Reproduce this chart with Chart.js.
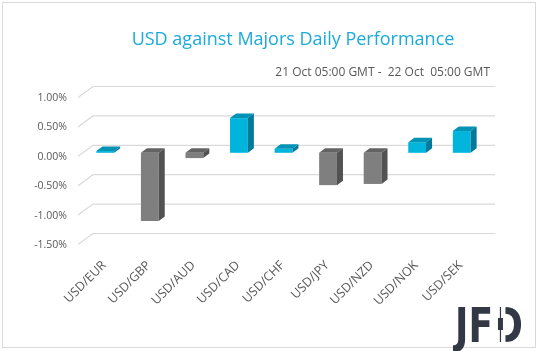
<!DOCTYPE html>
<html>
<head>
<meta charset="utf-8">
<script src="https://cdn.jsdelivr.net/npm/chart.js@4/dist/chart.umd.min.js"></script>
<style>
  html, body { margin: 0; padding: 0; background: #fff; }
  #wrap { position: relative; width: 538px; height: 351px; }
</style>
</head>
<body>
<div id="wrap"><canvas id="chart"></canvas></div>
<script>
// data
const pairs = ["USD/EUR", "USD/GBP", "USD/AUD", "USD/CAD", "USD/CHF", "USD/JPY", "USD/NZD", "USD/NOK", "USD/SEK"]
const changes = [0.03, -1.16, -0.09, 0.59, 0.07, -0.55, -0.53, 0.18, 0.37]
const yTicks = [-1.5, -1.0, -0.5, 0, 0.5, 1.0]

const titleText = "USD against Majors Daily Performance"
const periodText = "21 Oct 05:00 GMT -  22 Oct  05:00 GMT"

const upColors = { front: "#00B4DC", top: "#0093B5", side: "#00799A" }
const downColors = { front: "#7F7F7F", top: "#636363", side: "#525252" }
const colorsFor = (v) => (v >= 0 ? upColors : downColors)

const FONT = '"Open Sans", "Liberation Sans", sans-serif'

// back wall gridlines (Excel style 3D wall)
const wallPlugin = {
  id: "wall",
  beforeDatasetsDraw(chart) {
    const { ctx, chartArea, scales } = chart
    ctx.save()
    ctx.strokeStyle = "#d9d9d9"
    ctx.lineWidth = 1.2
    yTicks.forEach((v) => {
      const y = scales.y.getPixelForValue(v)
      ctx.beginPath()
      ctx.moveTo(chartArea.left - 5, y + 3.5)
      ctx.lineTo(chartArea.left + 10, y - 7.5)
      ctx.lineTo(chartArea.right + 11, y - 7.5)
      ctx.stroke()
    })
    ctx.restore()
  },
}

// top and side faces of the 3D columns
const depthPlugin = {
  id: "depth",
  afterDatasetsDraw(chart) {
    const { ctx } = chart
    const meta = chart.getDatasetMeta(0)
    const dx = 6
    const dy = -4.5
    ctx.save()
    meta.data.forEach((bar, i) => {
      const c = colorsFor(changes[i])
      const left = bar.x - bar.width / 2
      const right = bar.x + bar.width / 2
      const top = Math.min(bar.y, bar.base)
      const bottom = Math.max(bar.y, bar.base)
      // top face
      ctx.fillStyle = c.top
      ctx.beginPath()
      ctx.moveTo(left, top)
      ctx.lineTo(left + dx, top + dy)
      ctx.lineTo(right + dx, top + dy)
      ctx.lineTo(right, top)
      ctx.closePath()
      ctx.fill()
      // side face
      ctx.fillStyle = c.side
      ctx.beginPath()
      ctx.moveTo(right, top)
      ctx.lineTo(right + dx, top + dy)
      ctx.lineTo(right + dx, bottom + dy)
      ctx.lineTo(right, bottom)
      ctx.closePath()
      ctx.fill()
    })
    ctx.restore()
  },
}

// title, period, frame and logo
const decorPlugin = {
  id: "decor",
  afterDraw(chart) {
    const { ctx } = chart
    ctx.save()
    ctx.strokeStyle = "#d9d9d9"
    ctx.lineWidth = 1
    ctx.strokeRect(2.5, 2.5, 533, 345)

    ctx.textBaseline = "middle"
    ctx.fillStyle = "#1AABDB"
    ctx.font = "18px " + FONT
    ctx.textAlign = "center"
    ctx.fillText(titleText, 293, 40)

    ctx.fillStyle = "#595959"
    ctx.font = "12px " + FONT
    ctx.textAlign = "right"
    ctx.fillText(periodText, 490, 73)

    // JFD logo
    const logo = "JFD"
    ctx.font = 'bold 48px "DejaVu Sans"'
    ctx.textAlign = "left"
    ctx.textBaseline = "alphabetic"
    const w = ctx.measureText(logo).width
    const s = 68 / w
    const x0 = 455
    const base = 342
    ctx.fillStyle = "#323844"
    ctx.save()
    ctx.translate(x0, base)
    ctx.scale(s, 1)
    ctx.fillText(logo, 0, 0)
    const dStart = ctx.measureText("JF").width
    ctx.restore()
    const stemL = x0 + (dStart + 0.08 * 48) * s
    const stemR = x0 + (dStart + 0.33 * 48) * s
    ctx.fillStyle = "#fff"
    ctx.fillRect(stemL - 0.5, base - 36, stemR - stemL + 1, 37)
    ctx.fillStyle = "#323844"
    const cx = (stemL + stemR) / 2
    ctx.fillRect(cx - 0.6, base - 35, 1.2, 35)
    ctx.fillRect(cx - 2.5, base - 24, 5, 12)
    ctx.restore()
  },
}

new Chart(document.getElementById("chart"), {
  type: "bar",
  data: {
    labels: pairs,
    datasets: [
      {
        data: changes,
        backgroundColor: changes.map((v) => colorsFor(v).front),
        borderWidth: 0,
        barPercentage: 0.4,
        categoryPercentage: 1.0,
      },
    ],
  },
  options: {
    responsive: true,
    maintainAspectRatio: false,
    animation: false,
    layout: { padding: { top: 94, right: 54, left: 0, bottom: 0 } },
    plugins: {
      legend: { display: false },
      tooltip: { enabled: false },
    },
    scales: {
      x: {
        grid: { display: false, drawTicks: false },
        border: { display: false },
        ticks: {
          color: "#595959",
          font: { family: FONT, size: 12.5 },
          minRotation: 45,
          maxRotation: 45,
          padding: 17,
          labelOffset: -1,
        },
        afterFit(scale) {
          scale.height = 110
        },
      },
      y: {
        min: -1.5,
        max: 1.0,
        grid: { display: false, drawTicks: false },
        border: { display: false },
        ticks: {
          stepSize: 0.5,
          color: "#595959",
          font: { family: FONT, size: 10.5 },
          padding: 16,
          labelOffset: 4,
          callback: (v) => v.toFixed(2) + "%",
        },
        afterFit(scale) {
          scale.width = 83
        },
      },
    },
  },
  plugins: [wallPlugin, depthPlugin, decorPlugin],
})
</script>
</body>
</html>
